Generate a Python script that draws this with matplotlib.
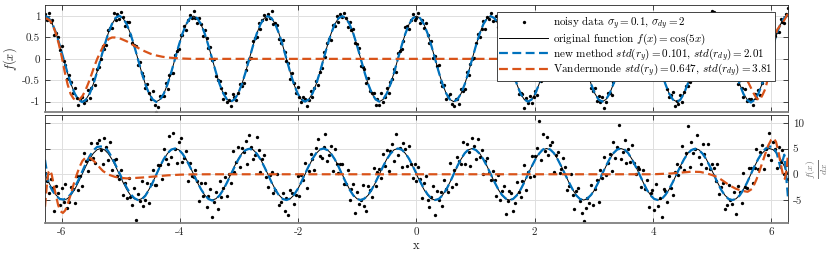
import numpy as np
import matplotlib
matplotlib.use("Agg")
import matplotlib.pyplot as plt

plt.rcParams['font.family'] = 'serif'
plt.rcParams['font.serif'] = ['cmr10', 'DejaVu Serif']
plt.rcParams['mathtext.fontset'] = 'cm'
plt.rcParams['axes.unicode_minus'] = False
plt.rcParams['axes.formatter.use_mathtext'] = True

# noisy samples of f(x) (401 points on [-2pi, 2pi])
y_noisy = [
    1.05, .91, 1.07, .86, .90, .57, .61, .52, .20, .31, -.06, -.15, -.48, -.37, -.55, -.80, -.68, -.91, -1.07, -.93,
    -.90, -1.04, -.96, -.73, -.91, -.68, -.48, -.60, -.24, -.20, 0, .30, .24, .32, .68, .73, .73, 1.07, .92, 1.05,
    .93, 1.10, .98, .77, .87, .87, .55, .36, .33, .29, -.15, -.08, -.32, -.40, -.69, -.59, -.81, -.95, -.76, -1.07,
    -1.24, -1.12, -.86, -.88, -.86, -.57, -.70, -.38, -.33, -.32, .10, .19, .22, .57, .55, .77, .67, .90, 1.03, .96,
    1.12, .96, .85, .96, .82, .53, .68, .49, .25, .27, -.02, -.01, -.40, -.49, -.51, -.68, -.94, -.79, -1.02, -.97,
    -1.11, -.82, -.90, -.97, -.81, -.58, -.64, -.57, -.25, -.07, -.01, .01, .42, .49, .52, .85, .71, .91, 1.02, .93,
    1.06, .96, 1.13, .81, .83, .80, .46, .38, .45, .16, -.04, -.09, -.46, -.34, -.56, -.81, -.65, -.90, -1.00, -.89,
    -.94, -1.11, -.97, -.76, -.90, -.67, -.51, -.62, -.30, -.22, .15, .05, .38, .47, .45, .80, .78, 1.01, .87, 1.04,
    .97, 1.07, .96, .75, .87, .67, .71, .36, .34, .26, -.16, -.18, -.24, -.56, -.45, -.76, -.80, -.80, -1.08, -.95,
    -1.08, -.80, -1.01, -.89, -.69, -.81, -.54, -.46, -.23, -.31, .13, .18, .22, .41, .75, .77, .69, .92, 1.06, .92,
    .95, 1.07, .83, .92, .72, .85, .57, .38, .42, .01, .06, -.17, -.14, -.53, -.63, -.62, -.94, -.87, -.83, -1.05,
    -1.10, -.94, -.94, -1.05, -.71, -.74, -.70, -.30, -.38, -.12, 0, .02, .38, .58, .50, .69, .89, .71, .98, .93,
    1.07, .88, .92, 1.01, .75, .55, .63, .54, .29, .03, .15, -.24, -.30, -.50, -.49, -.83, -.81, -.83, -1.14, -.91,
    -1.04, -.86, -1.04, -.90, -.76, -.85, -.48, -.52, -.29, 0, -.10, .13, .40, .33, .63, .65, .95, .88, .87, 1.02,
    .88, 1.02, 1.05, .82, .80, .89, .50, .41, .37, .05, .02, -.31, -.22, -.41, -.67, -.74, -.68, -.99, -.88, -1.01,
    -.89, -1.16, -1.00, -.81, -.81, -.84, -.54, -.33, -.37, -.25, .01, .31, .20, .41, .66, .57, .91, .87, .88, 1.05,
    .94, 1.06, .97, .79, .95, .64, .63, .56, .16, .15, .09, -.10, -.43, -.50, -.46, -.71, -.89, -.84, -.78, -1.10,
    -.98, -1.06, -.85, -1.02, -.78, -.63, -.63, -.54, -.16, -.18, .11, .10, .35, .54, .41, .72, .88, .79, .92, 1.11,
    1.10, .94, .94, 1.05, .71, .74, .70, .30, .38, .12, 0, -.02, -.38, -.58, -.50, -.69, -.89, -.71, -.98, -.93,
    -.95, -1.07, -.83, -.92, -.72, -.85, -.57, -.38, -.42, -.01, -.06, .17, .14, .53, .63, .62, .94, .87, .83, 1.05,
    1.18]

# noisy samples of the derivative
dy_noisy = [
    0.3, -1.4, -3.6, -0.9, -2.7, -7.1, -2.3, -3.7, -6.0, -2.7, -5.4, -1.9, -6.6, -5.3, -2.5, -2.9, -5.5, -0.3, -3.0, -0.4,
    -2.2, 4.2, 2.6, 0.7, 2.9, 6.1, 3.1, 2.1, 6.0, 6.7, 4.8, 1.9, 7.0, 5.3, 2.7, 6.3, 0.9, 2.7, 3.0, -0.4,
    -1.0, 0.8, -4.0, -1.7, -4.7, -0.7, -4.5, -5.9, -2.6, -8.9, -3.8, -5.1, -1.4, -6.1, -4.9, -1.7, -5.5, -1.9, 0.8, -2.0,
    -2.0, 1.8, 1.8, -0.9, 4.9, 2.9, 1.9, 7.5, 3.4, 8.1, 5.0, 2.1, 6.2, 7.1, 2.3, 3.1, 4.5, -1.3, 2.2, -0.4,
    -0.6, 0.8, -1.4, -5.1, -1.7, -4.3, -1.7, -6.3, -4.2, -2.9, -8.2, -5.3, -3.4, -6.7, -1.3, -4.5, -2.7, -0.5, -4.2, 0.0,
    -1.6, 4.6, 0.4, 2.3, 5.3, 1.5, 5.1, 4.3, 6.4, 1.9, 7.6, 5.3, 3.0, 3.7, 7.3, 4.7, 0.5, 2.9, 3.8, -0.6,
    -2.4, -0.2, 0.4, -3.7, -3.1, 0.1, -5.9, -5.3, -3.6, -7.1, -4.6, -7.9, -3.0, -3.7, -5.7, -4.1, -0.3, -4.3, -0.2, -1.2,
    2.2, -2.6, 0.6, 3.9, 2.9, 0.9, 5.1, 6.9, 3.6, 3.1, 5.2, 7.9, 2.6, 3.7, 5.5, 0.7, 4.9, 1.9, 0.2, 2.0,
    2.0, -1.8, -1.8, 0.9, -4.9, -2.9, -1.9, -7.5, -3.4, -5.7, -5.0, -2.1, -6.2, -7.1, -2.3, -3.1, -4.5, 1.3, -2.2, 0.4,
    1.0, -0.8, 4.0, 1.7, 4.7, 0.7, 4.5, 5.9, 2.6, 7.9, 3.8, 5.1, 1.4, 6.1, 4.9, 1.7, 5.5, 1.9, -0.8, 2.0,
    -1.4, 1.4, -1.0, -4.7, -1.7, -0.3, -4.9, -6.3, -4.4, -2.3, -8.0, -3.3, -5.0, -3.5, -6.1, -1.1, -2.9, -3.5, 2.2, -2.4,
    0.8, -1.8, 3.4, 2.5, 1.9, 6.3, 1.9, 5.9, 4.4, 1.7, 7.0, 5.5, 3.0, 6.9, 3.3, 4.7, 0.1, 2.5, 3.2, 0.2,
    -1.2, 0.6, -1.2, -4.3, -0.1, -4.9, -3.3, -2.3, -7.8, -5.1, -3.2, -3.7, -7.2, -5.5, -1.5, -3.5, -4.5, -1.3, 1.8, -3.0,
    0.4, -0.6, 3.6, -0.3, 3.5, 5.1, 10.3, 2.7, 7.8, 4.5, 7.2, 3.7, 5.6, 6.3, 0.5, 3.7, 4.3, 0.3, 1.0, 3.2,
    1.4, -3.0, -2.2, 0.1, -4.1, -6.7, -3.3, -2.7, -5.2, -7.5, -9.0, -6.5, -4.6, -5.5, -2.1, -5.9, -2.9, -1.1, -5.4, 0.8,
    -0.8, 3.4, -0.2, 2.1, 3.9, 0.7, 6.3, 3.1, 5.2, 9.5, 3.0, 4.3, 6.6, 2.1, 4.9, 2.3, 5.7, 2.1, 0.0, 1.4,
    1.0, -2.4, 0.8, -2.9, -1.1, -6.3, -3.7, -3.1, -7.0, -1.9, -6.2, -4.7, -8.2, -2.9, -3.3, -5.3, -0.3, -2.7, -4.0, 0.4,
    2.0, -0.2, 1.4, 5.5, 0.9, 4.1, 9.4, 1.5, 6.2, 4.1, 5.0, 7.7, 3.4, 1.9, 5.9, 3.9, 1.3, 5.9, 1.0, 2.0,
    1.2, -1.4, 2.0, -3.9, -2.5, -1.7, -6.7, -5.9, -2.0, -4.9, -5.8, -3.5, -7.8, -2.3, -3.5, -5.5, 0.3, -2.5, -2.6, 1.2,
    1.2, -1.6, 1.2, 4.9, 1.1, 4.3, 5.7, 1.1, 5.0, 3.7, 8.0, 2.7, 6.2, 4.9, 1.3, 5.3, 2.3, 4.7, 0.0, 1.8,
    -1.0]

# original function and its derivative (201 points)
y_true = [
    1, .95, .81, .59, .31, 0, -.31, -.59, -.81, -.95, -1, -.95, -.81, -.59, -.31, 0, .31, .59, .81, .95,
    1, .95, .81, .59, .31, 0, -.31, -.59, -.81, -.95, -1, -.95, -.81, -.59, -.31, 0, .31, .59, .81, .95,
    1, .95, .81, .59, .31, 0, -.31, -.59, -.81, -.95, -1, -.95, -.81, -.59, -.31, 0, .31, .59, .81, .95,
    1, .95, .81, .59, .31, 0, -.31, -.59, -.81, -.95, -1, -.95, -.81, -.59, -.31, 0, .31, .59, .81, .95,
    1, .95, .81, .59, .31, 0, -.31, -.59, -.81, -.95, -1, -.95, -.81, -.59, -.31, 0, .31, .59, .81, .95,
    1, .95, .81, .59, .31, 0, -.31, -.59, -.81, -.95, -1, -.95, -.81, -.59, -.31, 0, .31, .59, .81, .95,
    1, .95, .81, .59, .31, 0, -.31, -.59, -.81, -.95, -1, -.95, -.81, -.59, -.31, 0, .31, .59, .81, .95,
    1, .95, .81, .59, .31, 0, -.31, -.59, -.81, -.95, -1, -.95, -.81, -.59, -.31, 0, .31, .59, .81, .95,
    1, .95, .81, .59, .31, 0, -.31, -.59, -.81, -.95, -1, -.95, -.81, -.59, -.31, 0, .31, .59, .81, .95,
    1, .95, .81, .59, .31, 0, -.31, -.59, -.81, -.95, -1, -.95, -.81, -.59, -.31, 0, .31, .59, .81, .95,
    1]
dy_true = [
    0, -1.55, -2.94, -4.05, -4.76, -5, -4.76, -4.05, -2.94, -1.55, 0, 1.55, 2.94, 4.05, 4.76, 5, 4.76, 4.05, 2.94, 1.55,
    0, -1.55, -2.94, -4.05, -4.76, -5, -4.76, -4.05, -2.94, -1.55, 0, 1.55, 2.94, 4.05, 4.76, 5, 4.76, 4.05, 2.94, 1.55,
    0, -1.55, -2.94, -4.05, -4.76, -5, -4.76, -4.05, -2.94, -1.55, 0, 1.55, 2.94, 4.05, 4.76, 5, 4.76, 4.05, 2.94, 1.55,
    0, -1.55, -2.94, -4.05, -4.76, -5, -4.76, -4.05, -2.94, -1.55, 0, 1.55, 2.94, 4.05, 4.76, 5, 4.76, 4.05, 2.94, 1.55,
    0, -1.55, -2.94, -4.05, -4.76, -5, -4.76, -4.05, -2.94, -1.55, 0, 1.55, 2.94, 4.05, 4.76, 5, 4.76, 4.05, 2.94, 1.55,
    0, -1.55, -2.94, -4.05, -4.76, -5, -4.76, -4.05, -2.94, -1.55, 0, 1.55, 2.94, 4.05, 4.76, 5, 4.76, 4.05, 2.94, 1.55,
    0, -1.55, -2.94, -4.05, -4.76, -5, -4.76, -4.05, -2.94, -1.55, 0, 1.55, 2.94, 4.05, 4.76, 5, 4.76, 4.05, 2.94, 1.55,
    0, -1.55, -2.94, -4.05, -4.76, -5, -4.76, -4.05, -2.94, -1.55, 0, 1.55, 2.94, 4.05, 4.76, 5, 4.76, 4.05, 2.94, 1.55,
    0, -1.55, -2.94, -4.05, -4.76, -5, -4.76, -4.05, -2.94, -1.55, 0, 1.55, 2.94, 4.05, 4.76, 5, 4.76, 4.05, 2.94, 1.55,
    0, -1.55, -2.94, -4.05, -4.76, -5, -4.76, -4.05, -2.94, -1.55, 0, 1.55, 2.94, 4.05, 4.76, 5, 4.76, 4.05, 2.94, 1.55,
    0]

# new method fit (same 201 points)
y_new = [
    1.01, .96, .82, .60, .31, 0, -.31, -.59, -.81, -.96, -1.01, -.96, -.82, -.60, -.31, 0, .31, .59, .81, .96,
    1.01, .95, .81, .59, .31, 0, -.31, -.59, -.81, -.95, -1.01, -.95, -.81, -.59, -.31, 0, .31, .59, .81, .95,
    1, .95, .81, .59, .31, 0, -.31, -.59, -.81, -.95, -1, -.95, -.81, -.59, -.31, 0, .31, .59, .81, .95,
    1, .95, .81, .59, .31, 0, -.31, -.59, -.81, -.95, -1, -.95, -.81, -.59, -.31, 0, .31, .59, .81, .95,
    1, .95, .81, .59, .31, 0, -.31, -.59, -.81, -.95, -1, -.95, -.81, -.59, -.31, 0, .31, .59, .81, .95,
    1, .95, .81, .59, .31, 0, -.31, -.59, -.81, -.95, -1, -.95, -.81, -.59, -.31, 0, .31, .59, .81, .95,
    1, .95, .81, .59, .31, 0, -.31, -.59, -.81, -.95, -1, -.95, -.81, -.59, -.31, 0, .31, .59, .81, .95,
    1, .95, .81, .59, .31, 0, -.31, -.59, -.81, -.95, -1, -.95, -.81, -.59, -.31, 0, .31, .59, .81, .95,
    1, .95, .81, .59, .31, 0, -.31, -.59, -.81, -.95, -1.01, -.96, -.81, -.59, -.31, 0, .31, .59, .81, .95,
    1.01, .96, .82, .60, .31, 0, -.31, -.60, -.82, -.96, -1.02, -.96, -.82, -.60, -.31, 0, .31, .60, .82, .96,
    1.02]
dy_new = [
    2.8, -1.8, -3.2, -4.2, -4.8, -4.9, -4.6, -3.8, -2.6, -1.1, 0.5, 2.1, 3.5, 4.6, 5.3, 5.4, 5.3, 4.5, 3.3, 1.8,
    0.3, -1.2, -2.6, -3.8, -4.6, -5.0, -4.9, -4.2, -3.0, -1.6, 0, 1.6, 3.0, 4.1, 4.8, 5.0, 4.8, 4.0, 2.9, 1.5,
    0, -1.5, -2.9, -4.0, -4.8, -5.1, -4.8, -4.1, -3.0, -1.6, -0.1, 1.4, 2.8, 4.0, 4.7, 4.95, 4.7, 4.0, 2.9, 1.5,
    0, -1.6, -3.0, -4.1, -4.8, -5.0, -4.7, -4.0, -2.9, -1.5, 0.1, 1.6, 3.0, 4.1, 4.8, 5.0, 4.7, 4.0, 2.9, 1.5,
    -0.1, -1.6, -3.0, -4.1, -4.8, -5.0, -4.7, -4.0, -2.9, -1.5, 0, 1.5, 2.9, 4.0, 4.7, 5.0, 4.8, 4.1, 3.0, 1.6,
    0.1, -1.4, -2.8, -3.9, -4.7, -5.0, -4.8, -4.1, -3.0, -1.6, 0, 1.6, 3.0, 4.1, 4.8, 5.0, 4.7, 4.0, 2.9, 1.5,
    0, -1.5, -2.9, -4.0, -4.7, -5.0, -4.8, -4.1, -3.0, -1.6, 0, 1.5, 2.9, 4.0, 4.8, 5.1, 4.8, 4.1, 2.9, 1.5,
    0, -1.5, -2.9, -4.1, -4.8, -5.0, -4.7, -4.0, -2.9, -1.5, 0.1, 1.6, 3.0, 4.1, 4.8, 5.0, 4.8, 4.1, 2.9, 1.5,
    0, -1.5, -3.0, -4.1, -4.8, -5.0, -4.8, -4.0, -2.9, -1.5, 0, 1.5, 2.9, 4.0, 4.7, 4.95, 4.7, 4.0, 2.9, 1.5,
    0, -1.6, -3.0, -4.1, -4.8, -5.0, -4.8, -4.1, -3.0, -1.6, 0, 1.6, 3.0, 4.2, 5.0, 5.4, 5.3, 4.0, 1.2, 3.8,
    -4.5]

# Vandermonde fit (own x points, flat part in the middle)
x_vdm = [-6.283, -6.25, -6.2, -6.15, -6.1, -6.05, -6.0, -5.95, -5.9, -5.85, -5.8, -5.75, -5.7, -5.65,
         -5.6, -5.55, -5.5, -5.45, -5.4, -5.35, -5.3, -5.25, -5.2, -5.15, -5.1, -5.05, -5.0, -4.95,
         -4.9, -4.8, -4.7, -4.6, -4.5, -4.4, -4.3, -4.2, -4.1, -4.0, -3.8, 4.6, 4.9, 5.1, 5.3, 5.4,
         5.45, 5.5, 5.55, 5.6, 5.65, 5.7, 5.75, 5.8, 5.85, 5.9, 5.95, 6.0, 6.05, 6.1, 6.15, 6.2, 6.25, 6.283]
y_vdm = [.95, .94, .90, .78, .60, .35, .05, -.30, -.60, -.82, -.93, -.97, -.95, -.87,
         -.74, -.57, -.38, -.18, 0, .15, .29, .40, .47, .50, .50, .49, .47, .44,
         .41, .33, .25, .18, .12, .08, .05, .03, .02, .01, 0, 0, -.03, -.07, -.13, -.17,
         -.20, -.30, -.40, -.52, -.66, -.80, -.92, -.97, -.85, -.70, -.42, -.05, .45, .68, .78, .86, .98, 1.06]
xd_vdm = [-6.283, -6.26, -6.24, -6.22, -6.2, -6.17, -6.14, -6.1, -6.06, -6.02, -5.98, -5.94, -5.9,
          -5.85, -5.8, -5.75, -5.7, -5.65, -5.6, -5.55, -5.5, -5.45, -5.4, -5.35, -5.3, -5.2, -5.1,
          -5.0, -4.9, -4.8, -4.6, -4.4, -4.2, -4.0, -3.8, -3.5, 4.0, 4.3, 4.5, 4.65, 4.8, 4.9, 5.0,
          5.1, 5.2, 5.3, 5.4, 5.5, 5.6, 5.68, 5.75, 5.8, 5.85, 5.9, 5.95, 6.0, 6.04, 6.08, 6.12,
          6.16, 6.2, 6.23, 6.26, 6.283]
dy_vdm = [-6.3, -3.2, -0.8, 0.5, 0.8, 0.0, -1.8, -4.0, -6.0, -7.2, -7.5, -7.0, -5.8,
          -4.0, -2.0, -0.2, 1.4, 2.6, 3.2, 3.3, 3.0, 2.5, 1.9, 1.2, 0.6, -0.1, -0.5,
          -0.7, -0.8, -0.75, -0.6, -0.4, -0.2, -0.08, -0.02, 0, 0, 0.15, 0.35, 0.5, 0.45, 0.2, -0.15,
          -0.6, -1.4, -2.2, -2.8, -3.2, -3.4, -2.8, -1.0, 0.6, 2.3, 4.0, 5.6, 6.7, 7.0, 6.3, 4.5,
          2.0, -0.2, -0.9, 1.0, 4.0]

x_ticks = [-6, -4, -2, 0, 2, 4, 6]
x_ticklabels = ['-6', '-4', '-2', '0', '2', '4', '6']
y_ticks = [-1, -0.5, 0, 0.5, 1]
y_ticklabels = ['-1', '-0.5', '0', '0.5', '1']
dy_ticks = [-5, 0, 5, 10]
dy_ticklabels = ['-5', '0', '5', '10']

blue = '#0072BD'
orange = '#D95319'
txt = '0.15'

x_n = np.linspace(-2 * np.pi, 2 * np.pi, len(y_noisy))
xd_n = np.linspace(-2 * np.pi, 2 * np.pi, len(dy_noisy))
x_c = np.linspace(-2 * np.pi, 2 * np.pi, len(y_true))

fig = plt.figure(figsize=(8.3, 2.58), dpi=100)
ax1 = fig.add_axes([0.0542, 0.5647, 0.8952, 0.4159])
ax2 = fig.add_axes([0.0542, 0.1368, 0.8952, 0.4174])

for ax in (ax1, ax2):
    ax.grid(True, color='#dedede', lw=0.7)
    ax.set_axisbelow(True)
    ax.set_xlim(-2 * np.pi, 2 * np.pi)
    ax.set_xticks(x_ticks)
    ax.tick_params(direction='in', length=3.5, width=0.6, top=True, right=True,
                   labelsize=8, colors=txt)
    for s in ax.spines.values():
        s.set_color('0.15')
        s.set_linewidth(0.6)
    ax.spines['bottom'].set_color('0.5')
    ax.spines['bottom'].set_linewidth(1.3)

# top panel
ax1.plot(x_n, y_noisy, 'o', color='k', ms=2.4, mew=0, label='noisy data $\\sigma_y = 0.1$, $\\sigma_{dy} = 2$')
ax1.plot(x_c, y_true, '-', color='k', lw=0.7, label='original function $f(x) = \\cos(5x)$')
ax1.plot(x_c, y_new, '--', color=blue, lw=1.6, dashes=(4, 2),
         label='new method $std(r_y) = 0.101$, $std(r_{dy}) = 2.01$')
ax1.plot(x_vdm, y_vdm, '--', color=orange, lw=1.6, dashes=(4, 2),
         label='Vandermonde $std(r_y) = 0.647$, $std(r_{dy}) = 3.81$')
ax1.set_ylim(-1.25, 1.26)
ax1.set_yticks(y_ticks)
ax1.set_yticklabels(y_ticklabels)
ax1.tick_params(labelbottom=False)
ax1.set_ylabel('$f(x)$', fontsize=9, color=txt, labelpad=2)

leg = ax1.legend(loc='upper right', bbox_to_anchor=(0.9825, 0.935), borderaxespad=0,
                 fontsize=8.0, numpoints=1, handlelength=4.4, handletextpad=0.4,
                 borderpad=0.25, labelspacing=-0.08, fancybox=False, framealpha=1)
leg.get_frame().set_edgecolor('0.15')
leg.get_frame().set_linewidth(0.6)

# bottom panel
ax2.plot(xd_n, dy_noisy, 'o', color='k', ms=2.4, mew=0)
ax2.plot(x_c, dy_true, '-', color='k', lw=0.7)
ax2.plot(x_c, dy_new, '--', color=blue, lw=1.6, dashes=(4, 2))
ax2.plot(xd_vdm, dy_vdm, '--', color=orange, lw=1.6, dashes=(4, 2))
ax2.set_ylim(-9.4, 11.5)
ax2.set_yticks(dy_ticks)
ax2.set_yticklabels(dy_ticklabels)
ax2.set_xticklabels(x_ticklabels)
ax2.tick_params(labelleft=False, labelright=True)
ax2.yaxis.set_label_position('right')
ax2.set_ylabel('$\\frac{f(x)}{dx}$', fontsize=10, color='0.45', labelpad=1)
ax2.set_xlabel('x', fontsize=9, color=txt, labelpad=2)

fig.savefig('out.png', dpi=100)
